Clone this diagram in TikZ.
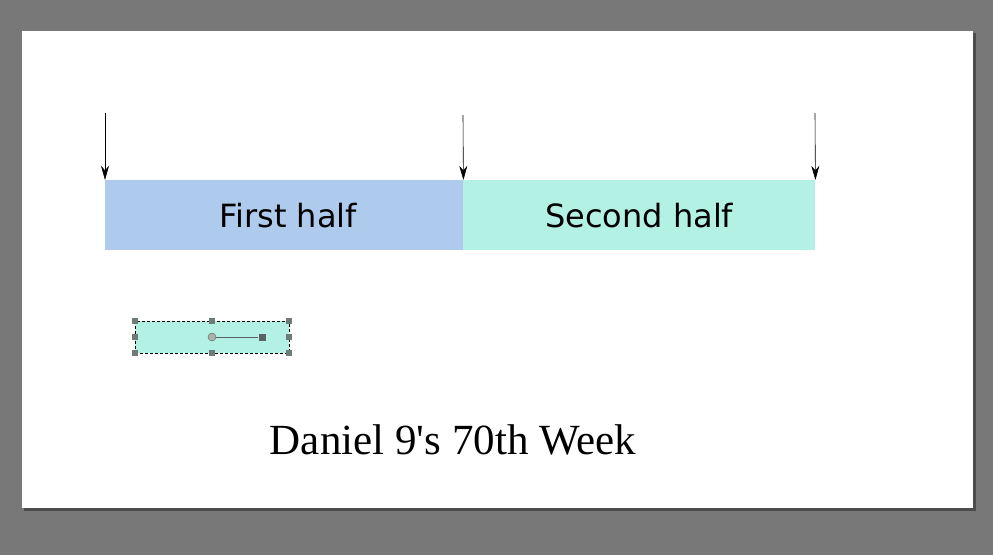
\documentclass[tikz,border=0pt]{standalone}
\usepackage{fontspec}
\setmainfont{Liberation Serif}
\newfontfamily\barfont{DejaVu Sans}
\usetikzlibrary{arrows.meta}
\tikzset{>={Stealth[width=2.8mm,length=5mm]}}
\definecolor{firstblue}{HTML}{AECBEE}
\definecolor{secondgreen}{HTML}{B3F1E5}
\definecolor{handlegray}{HTML}{6F7B78}
\definecolor{backgray}{HTML}{787878}
\tikzset{
  halfbar/.style = {minimum height = 70pt, inner sep = 0pt, anchor = north west, font = \barfont\fontsize{32}{32}\selectfont},
  handle/.style = {fill = handlegray, minimum size = 6pt, inner sep = 0pt}
}

\begin{document}
\begin{tikzpicture}[x = 1pt, y = -1pt]
\useasboundingbox (0, 0) rectangle (993, 555);
\fill[backgray] (0, 0) rectangle (993, 555);
\fill[black!70] (24, 33) rectangle (976, 511);
\fill[white] (22, 31) rectangle (973, 508);

% the two halves
\node (first) [halfbar, fill = firstblue, minimum width = 358pt] at (105, 180) {\hspace{8pt}First half};
\node (second) [halfbar, fill = secondgreen, minimum width = 352pt] at (463, 180) {Second half};

% arrows
\coordinate (tstart) at (105, 113);
\coordinate (tmid) at (463, 115);
\coordinate (tend) at (815, 113);
\draw[->, semithick] (tstart) -- (first.north west);
\draw[->, semithick] (tmid) -- (first.north east);
\draw[->, semithick] (tend) -- (second.north east);

% selected shape
\node (sel) [draw = black, densely dashed, thin, fill = secondgreen, minimum width = 154pt, minimum height = 32pt, inner sep = 0pt, anchor = north west] at (135, 321) {};
\foreach \a in {north west, north, north east, west, east, south west, south, south east}
  \node [handle] at (sel.\a) {};
\node (knob) [circle, draw = handlegray!80!black, fill = handlegray!60, minimum size = 8pt, inner sep = 0pt] at (212, 337) {};
\node (tip) [handle, fill = handlegray!80!black, minimum size = 7pt] at (262, 337) {};
\draw[handlegray!80!black] (knob) -- (tip);

% title
\node (title) at (453, 440) {\fontsize{43}{43}\selectfont Daniel 9\textquotesingle s 70th Week};
\end{tikzpicture}
\end{document}
